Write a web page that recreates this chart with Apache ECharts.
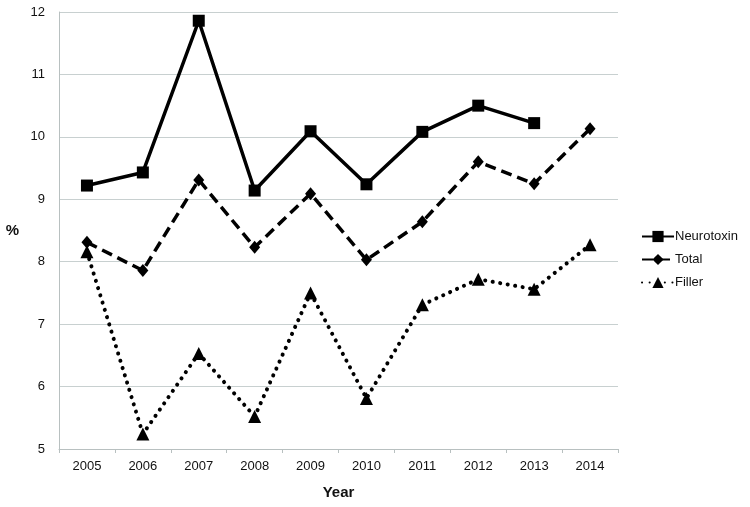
<!DOCTYPE html>
<html>
<head>
<meta charset="utf-8">
<script src="https://cdn.jsdelivr.net/npm/echarts@6/dist/echarts.min.js"></script>
<style>html,body{margin:0;padding:0;background:#fff}#c{width:750px;height:507px}</style>
</head>
<body>
<div id="c"></div>
<script>
const years = ['2005','2006','2007','2008','2009','2010','2011','2012','2013','2014'];
const neurotoxin = [9.22, 9.43, 11.86, 9.14, 10.09, 9.24, 10.08, 10.50, 10.22, null];
const total = [8.31, 7.86, 9.31, 8.23, 9.09, 8.03, 8.64, 9.60, 9.25, 10.13];
const filler = [8.16, 5.24, 6.53, 5.52, 7.50, 5.81, 7.31, 7.72, 7.56, 8.27];
const yTicks = {min: 5, max: 12, interval: 1};

const chart = echarts.init(document.getElementById('c'), null, {renderer: 'canvas'});
const font = 'Liberation Sans, Arial, sans-serif';
chart.setOption({
  animation: false,
  backgroundColor: '#fff',
  grid: {left: 59, right: 132, top: 12, bottom: 58},
  legend: {
    orient: 'vertical', left: 636, top: 225, itemGap: 10,
    itemWidth: 32, itemHeight: 14,
    textStyle: {fontFamily: font, fontSize: 13, color: '#111', padding: [0, 0, 0, -4]},
    data: ['Neurotoxin', 'Total', 'Filler']
  },
  xAxis: {
    type: 'category', data: years, boundaryGap: true,
    name: 'Year', nameLocation: 'middle', nameGap: 36,
    nameTextStyle: {fontFamily: font, fontSize: 15, fontWeight: 'bold', color: '#111'},
    axisLine: {lineStyle: {color: '#b8c0c0', width: 1}},
    axisTick: {show: true, alignWithLabel: false, length: 4, lineStyle: {color: '#b8c0c0'}},
    axisLabel: {fontFamily: font, fontSize: 13, color: '#111', margin: 11}
  },
  yAxis: {
    type: 'value', min: yTicks.min, max: yTicks.max, interval: yTicks.interval,
    name: '%', nameLocation: 'middle', nameGap: 40, nameRotate: 0,
    nameTextStyle: {fontFamily: font, fontSize: 15, fontWeight: 'bold', color: '#111', padding: [6, 0, 0, 0]},
    axisLine: {show: true, lineStyle: {color: '#b8c0c0', width: 1}},
    axisTick: {show: false},
    axisLabel: {fontFamily: font, fontSize: 13, color: '#111', margin: 14},
    splitLine: {lineStyle: {color: '#c8d0d0', width: 1.2}}
  },
  series: [
    {
      name: 'Neurotoxin', type: 'line', data: neurotoxin, connectNulls: false,
      symbol: 'rect', symbolSize: 12,
      lineStyle: {color: '#000', width: 3.5, type: 'solid'},
      itemStyle: {color: '#000'}
    },
    {
      name: 'Total', type: 'line', data: total,
      symbol: 'diamond', symbolSize: [11, 13],
      lineStyle: {color: '#000', width: 3.5, type: [11, 6]},
      itemStyle: {color: '#000'}
    },
    {
      name: 'Filler', type: 'line', data: filler,
      symbol: 'triangle', symbolSize: 13,
      lineStyle: {color: '#000', width: 4, type: [0.1, 7.5], cap: 'round'},
      itemStyle: {color: '#000'}
    }
  ]
});
</script>
</body>
</html>
